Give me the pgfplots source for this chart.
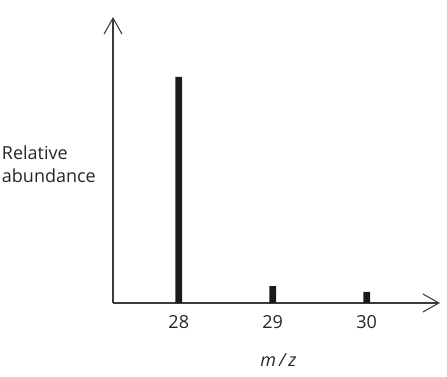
\documentclass[border=0pt]{standalone}
\usepackage{pgfplots}
\pgfplotsset{compat=1.18}
\usepackage{fontspec}
\setmainfont{Open Sans}
\usetikzlibrary{arrows.meta}
\definecolor{barc}{HTML}{1A1A1A}
\definecolor{axc}{HTML}{3A3A3A}
\begin{document}
\begin{tikzpicture}[x=1pt,y=1pt]
\useasboundingbox (0,0) rectangle (335.25,282.75);
\begin{axis}[
  at={(84.75pt,55.5pt)}, anchor=south west,
  scale only axis, width=245.25pt, height=214.5pt,
  xmin=27.30, xmax=30.78, ymin=0, ymax=126.5,
  axis lines=left,
  axis line style={axc, line width=0.8pt, -{Straight Barb[length=12pt,width=13.5pt,line width=0.8pt]}},
  xtick={28,29,30}, ytick=\empty,
  major tick length=0pt,
  xticklabel style={inner sep=0pt, yshift=-9pt, font=\fontsize{13.5}{16}\selectfont, text=black!85},
  /pgf/number format/assume math mode=true,
  clip=false,
  ybar, bar width=5pt, bar shift=0pt,
]
\addplot[fill=barc, draw=none] coordinates {(28,100) (29,7.5) (30,4.9)};
\node[anchor=base, font=\fontsize{13.5}{16}\selectfont\itshape, text=black!85] at (axis cs:29.06,0) [yshift=-48pt] {m\,/\,z};
\node[anchor=west, align=left, inner sep=0pt, font=\fontsize{13.5}{17.5}\selectfont, text=black!85] at (rel axis cs:0,0.479) [xshift=-83.5pt, yshift=1.5pt] {Relative\\abundance};
\end{axis}
\end{tikzpicture}
\end{document}
